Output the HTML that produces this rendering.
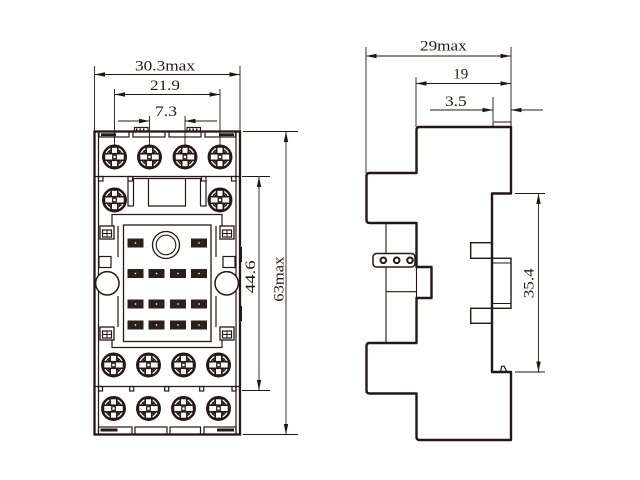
<!DOCTYPE html>
<html><head><meta charset="utf-8"><style>
html,body{margin:0;padding:0;background:#fff;}
svg{display:block;}
text{font-family:"Liberation Serif",serif;font-size:15px;fill:#231815;}
</style></head><body>
<svg width="640" height="480" viewBox="0 0 640 480" xmlns="http://www.w3.org/2000/svg">
<defs>
<g id="sc">
<circle r="11.2" fill="#fff" stroke="#231815" stroke-width="2.5"/>
<circle r="8" fill="none" stroke="#231815" stroke-width="1.2"/>
<rect x="-3.3" y="-10" width="6.6" height="20" fill="#fff" stroke="#231815" stroke-width="1.6"/>
<rect x="-10" y="-3.3" width="20" height="6.6" fill="#fff" stroke="#231815" stroke-width="1.6"/>
<rect x="-2.4" y="-2.4" width="4.8" height="4.8" fill="#fff"/>
<rect x="-1.8" y="-1.8" width="3.6" height="3.6" fill="none" stroke="#231815" stroke-width="1.2"/>
<line x1="-6" y1="-6" x2="-3.5" y2="-3.5" stroke="#231815" stroke-width="1.4"/>
<line x1="6" y1="-6" x2="3.5" y2="-3.5" stroke="#231815" stroke-width="1.4"/>
<line x1="-6" y1="6" x2="-3.5" y2="3.5" stroke="#231815" stroke-width="1.4"/>
<line x1="6" y1="6" x2="3.5" y2="3.5" stroke="#231815" stroke-width="1.4"/>
</g>
<g id="clip"><rect x="0" y="0" width="14" height="13" fill="#fff" stroke="#231815" stroke-width="1.3"/><rect x="2.5" y="4" width="9" height="7" fill="none" stroke="#231815" stroke-width="1.2"/><line x1="7" y1="4" x2="7" y2="11" stroke="#231815" stroke-width="1"/><line x1="2.5" y1="7.5" x2="11.5" y2="7.5" stroke="#231815" stroke-width="1"/></g>
</defs>

<!-- ============ FRONT VIEW DIMENSIONS ============ -->
<g stroke="#231815" stroke-width="0.9" fill="none">
<line x1="94.5" y1="66" x2="94.5" y2="131"/>
<line x1="240" y1="66" x2="240" y2="131"/>
<line x1="94.5" y1="74.5" x2="240" y2="74.5"/>
<line x1="114.5" y1="89" x2="114.5" y2="147"/>
<line x1="220" y1="89" x2="220" y2="147"/>
<line x1="114.5" y1="94.5" x2="220" y2="94.5"/>
<line x1="149.5" y1="116" x2="149.5" y2="147"/>
<line x1="185" y1="116" x2="185" y2="147"/>
<line x1="118" y1="121" x2="149.5" y2="121"/>
<line x1="185" y1="121" x2="217" y2="121"/>
<line x1="243" y1="131.5" x2="298" y2="131.5"/>
<line x1="243" y1="434.5" x2="298" y2="434.5"/>
<line x1="286" y1="131.5" x2="286" y2="434.5"/>
<line x1="242" y1="176.5" x2="270" y2="176.5"/>
<line x1="242" y1="390.5" x2="270" y2="390.5"/>
<line x1="259" y1="176.5" x2="259" y2="390.5"/>
</g>
<g fill="#231815">
<polygon points="94.5,74.5 105,72.3 105,76.7"/>
<polygon points="240,74.5 229.5,72.3 229.5,76.7"/>
<polygon points="114.5,94.5 125,92.3 125,96.7"/>
<polygon points="220,94.5 209.5,92.3 209.5,96.7"/>
<polygon points="149.5,121 139,118.8 139,123.2"/>
<polygon points="185,121 195.5,118.8 195.5,123.2"/>
<polygon points="286,131.5 283.8,142 288.2,142"/>
<polygon points="286,434.5 283.8,424 288.2,424"/>
<polygon points="259,176.5 256.8,187 261.2,187"/>
<polygon points="259,390.5 256.8,380 261.2,380"/>
</g>
<text x="135" y="70.7" textLength="60" lengthAdjust="spacingAndGlyphs">30.3max</text>
<text x="150" y="90" textLength="30" lengthAdjust="spacingAndGlyphs">21.9</text>
<text x="155" y="116" textLength="22" lengthAdjust="spacingAndGlyphs">7.3</text>
<text transform="translate(283.3,301.7) rotate(-90)" x="0" y="0" textLength="45" lengthAdjust="spacingAndGlyphs">63max</text>
<text transform="translate(255,293.3) rotate(-90)" x="0" y="0" textLength="33" lengthAdjust="spacingAndGlyphs">44.6</text>

<!-- ============ FRONT VIEW BODY ============ -->
<g fill="none" stroke="#231815" stroke-width="1.2">
<rect x="94.5" y="131.5" width="145.5" height="303" stroke-width="2.3"/>
<line x1="98.5" y1="131.5" x2="98.5" y2="434"/>
<line x1="236" y1="131.5" x2="236" y2="434"/>
<rect x="99" y="131.5" width="30" height="5.5"/>
<rect x="133" y="131.5" width="32" height="5.5"/>
<rect x="169" y="131.5" width="32" height="5.5"/>
<rect x="205" y="131.5" width="30.5" height="5.5"/>
<rect x="134.5" y="127.5" width="13.5" height="4"/>
<rect x="187" y="127.5" width="13.5" height="4"/>
<line x1="94.5" y1="176.5" x2="240" y2="176.5"/>
<rect x="98.5" y="176.5" width="4.5" height="4.5"/>
<rect x="128" y="176.5" width="4.5" height="4.5"/>
<rect x="201.5" y="176.5" width="4.5" height="4.5"/>
<rect x="231.5" y="176.5" width="4.5" height="4.5"/>
<path d="M133.5 206 V178.5 H200.5 V206 M148.5 178.5 V206 H185.5 V178.5"/>
<path d="M128 181 V206 H133.5 M206 181 V206 H200.5"/>
<path d="M112 226 V214.5 H222 V226"/>
<path d="M112 340 V347.5 H222 V340"/>
<rect x="123.5" y="225" width="87.5" height="116.5" stroke-width="1.3"/>
<circle cx="166" cy="245" r="13.5" stroke-width="1.3"/>
<circle cx="166" cy="245" r="9.8" stroke-width="1.1"/>
<line x1="118" y1="226" x2="118" y2="257"/>
<line x1="118" y1="296" x2="118" y2="327"/>
<line x1="216" y1="226" x2="216" y2="257"/>
<line x1="216" y1="296" x2="216" y2="327"/>
<rect x="99" y="256.5" width="12" height="11"/>
<rect x="223" y="256.5" width="12" height="11"/>
<circle cx="107.3" cy="283.3" r="11.7" fill="#fff" stroke-width="1.5"/>
<circle cx="226.7" cy="283.3" r="11.7" fill="#fff" stroke-width="1.5"/>
<line x1="94.5" y1="386.5" x2="240" y2="386.5"/>
<rect x="98.5" y="386.5" width="4" height="4.5"/>
<rect x="129.7" y="386.5" width="4" height="4.5"/>
<rect x="164.7" y="386.5" width="4" height="4.5"/>
<rect x="199.7" y="386.5" width="4" height="4.5"/>
<rect x="232" y="386.5" width="4" height="4.5"/>
<rect x="98.5" y="427" width="33.5" height="7.5"/>
<rect x="135" y="427" width="32" height="7.5"/>
<rect x="170" y="427" width="30.5" height="7.5"/>
<rect x="204" y="427" width="32" height="7.5"/>
</g>
<g fill="#231815">
<rect x="101" y="133.3" width="15" height="2.8"/>
<rect x="219" y="133.3" width="15" height="2.8"/>
<rect x="136" y="128.5" width="1.4" height="3"/><rect x="139.5" y="128.5" width="1.4" height="3"/><rect x="143" y="128.5" width="1.4" height="3"/>
<rect x="189" y="128.5" width="1.4" height="3"/><rect x="192.5" y="128.5" width="1.4" height="3"/><rect x="196" y="128.5" width="1.4" height="3"/>
<rect x="100.5" y="428.5" width="17" height="3"/>
<rect x="217" y="428.5" width="17" height="3"/>
<rect x="239.5" y="247" width="2.5" height="15"/>
<rect x="239.5" y="306" width="2.5" height="15"/>
</g>
<use href="#clip" x="100" y="226"/>
<use href="#clip" x="220" y="226"/>
<use href="#clip" x="100" y="327"/>
<use href="#clip" x="220" y="327"/>
<!-- pins -->
<g fill="#2a211e">
<rect x="127.5" y="238.5" width="16" height="9"/><rect x="191" y="238.5" width="16" height="9"/>
<rect x="127.5" y="269" width="16" height="9"/><rect x="148.5" y="269" width="16" height="9"/><rect x="170" y="269" width="16" height="9"/><rect x="191" y="269" width="16" height="9"/>
<rect x="127.5" y="299.5" width="16" height="9"/><rect x="148.5" y="299.5" width="16" height="9"/><rect x="170" y="299.5" width="16" height="9"/><rect x="191" y="299.5" width="16" height="9"/>
<rect x="127.5" y="320.5" width="16" height="9"/><rect x="148.5" y="320.5" width="16" height="9"/><rect x="170" y="320.5" width="16" height="9"/><rect x="191" y="320.5" width="16" height="9"/>
</g>
<g fill="#fff">
<rect x="134.8" y="242.3" width="1.4" height="1.4"/><rect x="198.3" y="242.3" width="1.4" height="1.4"/>
<rect x="134.8" y="272.8" width="1.4" height="1.4"/><rect x="155.8" y="272.8" width="1.4" height="1.4"/><rect x="177.3" y="272.8" width="1.4" height="1.4"/><rect x="198.3" y="272.8" width="1.4" height="1.4"/>
<rect x="134.8" y="303.3" width="1.4" height="1.4"/><rect x="155.8" y="303.3" width="1.4" height="1.4"/><rect x="177.3" y="303.3" width="1.4" height="1.4"/><rect x="198.3" y="303.3" width="1.4" height="1.4"/>
<rect x="134.8" y="324.3" width="1.4" height="1.4"/><rect x="155.8" y="324.3" width="1.4" height="1.4"/><rect x="177.3" y="324.3" width="1.4" height="1.4"/><rect x="198.3" y="324.3" width="1.4" height="1.4"/>
</g>
<!-- screws -->
<use href="#sc" x="114.5" y="157"/><use href="#sc" x="149.5" y="157"/><use href="#sc" x="185" y="157"/><use href="#sc" x="220" y="157"/>
<use href="#sc" x="114.5" y="200"/><use href="#sc" x="220" y="200"/>
<use href="#sc" x="113.5" y="365"/><use href="#sc" x="148.5" y="365"/><use href="#sc" x="183.5" y="365"/><use href="#sc" x="218.5" y="365"/>
<use href="#sc" x="113.5" y="408.5"/><use href="#sc" x="148.5" y="408.5"/><use href="#sc" x="183.5" y="408.5"/><use href="#sc" x="218.5" y="408.5"/>

<!-- ============ SIDE VIEW DIMENSIONS ============ -->
<g stroke="#231815" stroke-width="0.9" fill="none">
<line x1="366" y1="47" x2="366" y2="173"/>
<line x1="511" y1="47" x2="511" y2="122"/>
<line x1="366" y1="56" x2="511" y2="56"/>
<line x1="416" y1="77" x2="416" y2="127"/>
<line x1="416" y1="83.5" x2="511" y2="83.5"/>
<line x1="493" y1="97" x2="493" y2="121"/>
<line x1="430" y1="110" x2="493" y2="110"/>
<line x1="511" y1="110" x2="543" y2="110"/>
<line x1="515" y1="193.5" x2="545" y2="193.5"/>
<line x1="515" y1="372" x2="545" y2="372"/>
<line x1="538.5" y1="193.5" x2="538.5" y2="372"/>
</g>
<g fill="#231815">
<polygon points="366,56 376.5,53.8 376.5,58.2"/>
<polygon points="511,56 500.5,53.8 500.5,58.2"/>
<polygon points="416,83.5 426.5,81.3 426.5,85.7"/>
<polygon points="511,83.5 500.5,81.3 500.5,85.7"/>
<polygon points="493,110 482.5,107.8 482.5,112.2"/>
<polygon points="511,110 521.5,107.8 521.5,112.2"/>
<polygon points="538.5,193.5 536.3,204 540.7,204"/>
<polygon points="538.5,372 536.3,361.5 540.7,361.5"/>
</g>
<text x="420" y="50.7" textLength="46.7" lengthAdjust="spacingAndGlyphs">29max</text>
<text x="453.3" y="78.3" textLength="15" lengthAdjust="spacingAndGlyphs">19</text>
<text x="445" y="106" textLength="21.7" lengthAdjust="spacingAndGlyphs">3.5</text>
<text transform="translate(533.3,298.3) rotate(-90)" x="0" y="0" textLength="30" lengthAdjust="spacingAndGlyphs">35.4</text>

<!-- ============ SIDE VIEW BODY ============ -->
<g fill="none" stroke="#231815">
<rect x="493" y="122" width="18" height="5" stroke-width="1"/>
<path stroke-width="2.4" stroke-linejoin="round" d="M416.5 173 V130 Q416.5 127 419.5 127 H511 V193.5 H492 V372 H511 V440 H419.5 Q416.5 440 416.5 437 V393.5 H369.5 Q366.5 393.5 366.5 390.5 V346 Q366.5 343 369.5 343 H416.5 V298 H431.5 V267 H416.5 V223 H369.5 Q366.5 223 366.5 220 V176 Q366.5 173 369.5 173 Z"/>
<line x1="416.5" y1="267" x2="416.5" y2="298" stroke-width="1.1"/>
<line x1="386" y1="223" x2="386" y2="343" stroke-width="1.1"/>
<line x1="386" y1="291.7" x2="416.5" y2="291.7" stroke-width="1.1"/>
<rect x="373" y="253.5" width="42" height="13.5" rx="3.5" fill="#fff" stroke-width="1.5"/>
<circle cx="383.3" cy="260.3" r="2.8" fill="#fff" stroke-width="2"/>
<circle cx="396.7" cy="260.3" r="2.8" fill="#fff" stroke-width="2"/>
<circle cx="410" cy="260.3" r="2.8" fill="#fff" stroke-width="2"/>
<rect x="470.7" y="242.7" width="21" height="15.6" stroke-width="1.4"/>
<rect x="470.7" y="308.3" width="21" height="15" stroke-width="1.4"/>
<rect x="492" y="258.3" width="19" height="50" stroke-width="1.4"/>
<line x1="492" y1="263" x2="511" y2="263" stroke-width="1"/>
<line x1="492" y1="303.5" x2="511" y2="303.5" stroke-width="1"/>
<path d="M500.5 372 L501.5 366.5 L504 366 L507 372" stroke-width="1.2"/>
</g>
</svg>
</body></html>
